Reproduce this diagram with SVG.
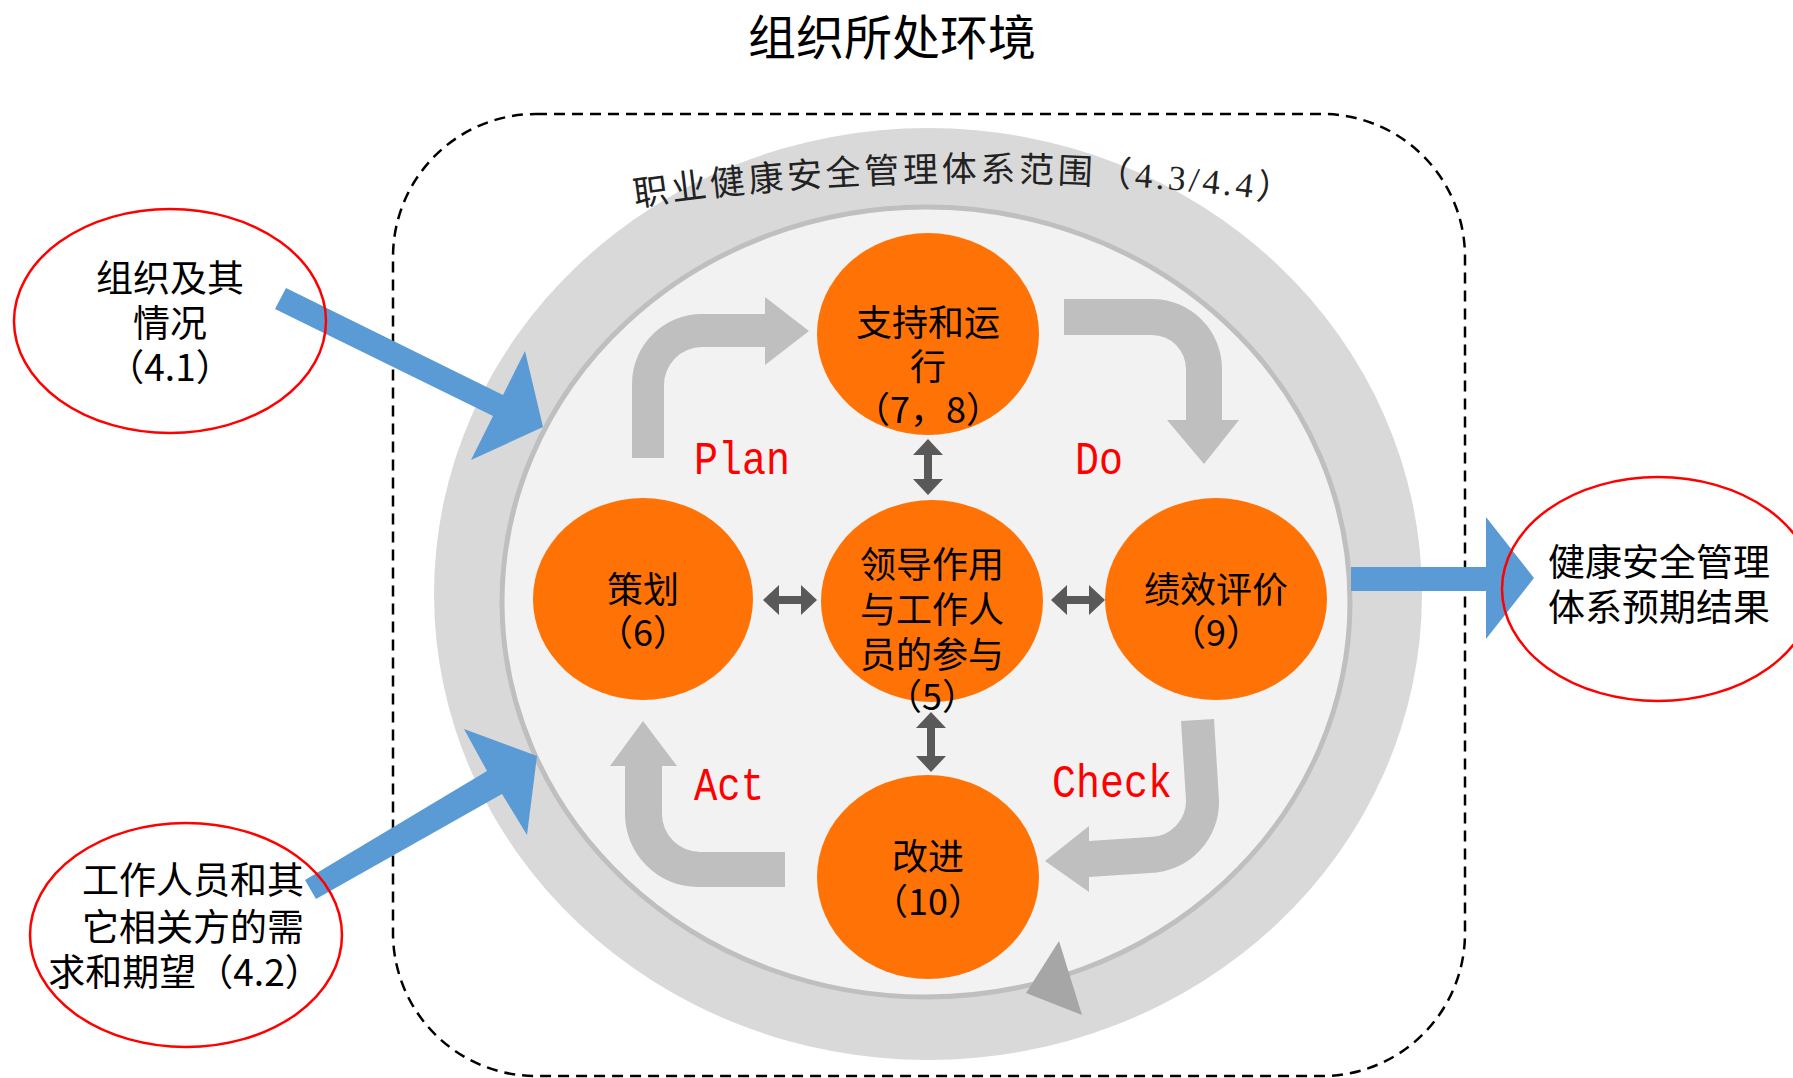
<svg xmlns="http://www.w3.org/2000/svg" width="1793" height="1078" viewBox="0 0 1793 1078">
<defs>
<style>
.cjk{font-family:"Noto Sans CJK SC","Liberation Sans",sans-serif;fill:#000;text-anchor:middle}
.node-text{font-size:36px}
.side-text{font-size:37px}
.orange{fill:#FF7306}
.redell{fill:none;stroke:#FF0000;stroke-width:2.5}
.pdca{fill:#BFBFBF}
.blue{fill:#5B9BD5}
.lbl{font-family:"Liberation Mono","DejaVu Sans Mono",monospace;fill:#FF0000;font-size:47px}
.dbl{stroke:#595959;stroke-width:8;fill:none;marker-start:url(#dh);marker-end:url(#dh)}
</style>
<marker id="dh" viewBox="0 0 16 30" refX="2" refY="15" markerWidth="16" markerHeight="30" markerUnits="userSpaceOnUse" orient="auto-start-reverse">
<path d="M0,0 L16,15 L0,30 Z" fill="#595959"/>
</marker>
<path id="scopeArc" d="M 625 208 Q 952 158 1285 202"/>
</defs>
<rect width="1793" height="1078" fill="#FFFFFF"/>

<g id="title">
<text class="cjk" x="892" y="55" font-size="48">组织所处环境</text>
</g>

<g id="scope">
<rect x="393" y="114" width="1072" height="962" rx="143" ry="143" fill="none" stroke="#000" stroke-width="2.5" stroke-dasharray="11 7"/>
<ellipse cx="928" cy="594" rx="494" ry="466" fill="#D9D9D9"/>
<ellipse cx="926" cy="602" rx="424" ry="395" fill="#F2F2F2" stroke="#BFBFBF" stroke-width="5"/>
<text font-family="'Liberation Serif','Noto Sans CJK SC',serif" font-size="35" letter-spacing="3.5" fill="#222"><textPath href="#scopeArc" startOffset="10">职业健康安全管理体系范围（4.3/4.4）</textPath></text>
<polygon points="1059,941 1082,1015 1026,993" fill="#A6A6A6"/>
</g>

<g id="connectors">
<path id="arrow-plan" class="pdca" d="M632,458 L632,384 A70,70 0 0 1 702,314 L765,314 L765,297 L809,331 L765,365 L765,347 L702,347 A38,38 0 0 0 664,385 L664,458 Z"/>
<path id="arrow-do" class="pdca" d="M1064,299 L1152,299 A70,70 0 0 1 1222,369 L1222,420 L1239,420 L1204,464 L1167,420 L1186,420 L1186,369 A34,34 0 0 0 1152,335 L1064,335 Z"/>
<path id="arrow-check" class="pdca" d="M1181,721 L1214,719 L1219,800 A71,71 0 0 1 1150,873 L1089,877 L1089,892 L1045,861 L1089,826 L1089,841 L1150,837 A36,36 0 0 0 1186,800 Z"/>
<path id="arrow-act" class="pdca" d="M785,852 L700,852 A38,38 0 0 1 662,814 L662,766 L677,766 L643,721 L610,766 L625,766 L625,814 A73,73 0 0 0 698,887 L785,887 Z"/>
<polygon id="arrow-in-1" class="blue" points="286,288 503,395 525,351 543,427 471,460 493,416 275,309"/>
<polygon id="arrow-in-2" class="blue" points="305,880 487,771 464,729 537,756 527,835 502,794 316,899"/>
<polygon id="arrow-out" class="blue" points="1351,567 1486,567 1486,517 1534,578 1486,639 1486,591 1351,591"/>
</g>

<g id="node-support">
<ellipse class="orange" cx="928" cy="334" rx="111" ry="101"/>
<text class="cjk node-text" x="928" y="336">支持和运</text>
<text class="cjk node-text" x="928" y="380">行</text>
<text class="cjk node-text" x="928" y="423">（7，8）</text>
</g>
<g id="node-planning">
<ellipse class="orange" cx="643" cy="599" rx="110" ry="101"/>
<text class="cjk node-text" x="643" y="603">策划</text>
<text class="cjk node-text" x="643" y="646">（6）</text>
</g>
<g id="node-leadership">
<ellipse class="orange" cx="932" cy="601" rx="111" ry="101"/>
<text class="cjk node-text" x="932" y="578">领导作用</text>
<text class="cjk node-text" x="932" y="623">与工作人</text>
<text class="cjk node-text" x="932" y="668">员的参与</text>
<text class="cjk node-text" x="932" y="710">（5）</text>
</g>
<g id="node-evaluation">
<ellipse class="orange" cx="1216" cy="599" rx="111" ry="101"/>
<text class="cjk node-text" x="1216" y="603">绩效评价</text>
<text class="cjk node-text" x="1216" y="646">（9）</text>
</g>
<g id="node-improvement">
<ellipse class="orange" cx="928" cy="877" rx="111" ry="102"/>
<text class="cjk node-text" x="928" y="870">改进</text>
<text class="cjk node-text" x="928" y="915">（10）</text>
</g>

<g id="node-context">
<ellipse class="redell" cx="170" cy="321" rx="156" ry="112"/>
<text class="cjk side-text" x="170" y="292">组织及其</text>
<text class="cjk side-text" x="170" y="337">情况</text>
<text class="cjk side-text" x="170" y="381">（4.1）</text>
</g>
<g id="node-needs">
<ellipse class="redell" cx="186" cy="935" rx="156" ry="112"/>
<text class="cjk side-text" x="193" y="894">工作人员和其</text>
<text class="cjk side-text" x="193" y="941">它相关方的需</text>
<text class="cjk side-text" x="185" y="986">求和期望（4.2）</text>
</g>
<g id="node-outcome">
<ellipse class="redell" cx="1658" cy="589" rx="156" ry="112"/>
<text class="cjk side-text" x="1659" y="576">健康安全管理</text>
<text class="cjk side-text" x="1659" y="621">体系预期结果</text>
</g>

<g id="labels">
<text class="lbl" x="694" y="474" textLength="96" lengthAdjust="spacingAndGlyphs">Plan</text>
<text class="lbl" x="1075" y="474" textLength="48" lengthAdjust="spacingAndGlyphs">Do</text>
<text class="lbl" x="694" y="800" textLength="70" lengthAdjust="spacingAndGlyphs">Act</text>
<text class="lbl" x="1052" y="797" textLength="120" lengthAdjust="spacingAndGlyphs">Check</text>
</g>

<g id="link-arrows">
<line class="dbl" x1="928" y1="453" x2="928" y2="481"/>
<line class="dbl" x1="777" y1="600" x2="803" y2="600"/>
<line class="dbl" x1="1065" y1="600" x2="1091" y2="600"/>
<line class="dbl" x1="931" y1="726" x2="931" y2="758"/>
</g>
</svg>
